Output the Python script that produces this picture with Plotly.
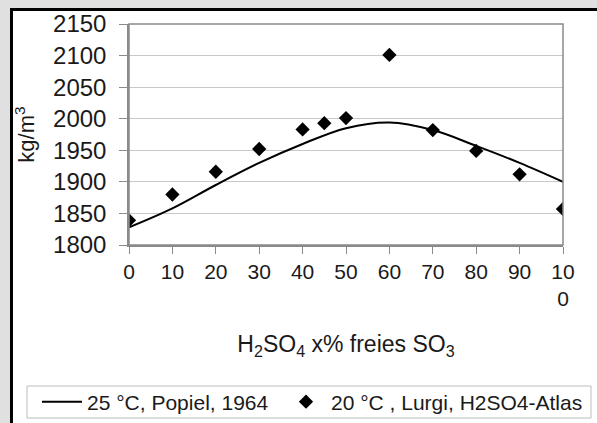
import plotly.graph_objects as go

# Data
curve_x = [0, 10, 20, 30, 40, 50, 60, 70, 80, 90, 100]
curve_y = [1828, 1858, 1895, 1930, 1960, 1985, 1994, 1982, 1957, 1930, 1900]

pts_x = [0, 10, 20, 30, 40, 45, 50, 60, 70, 80, 90, 100]
pts_y = [1839, 1880, 1916, 1952, 1983, 1993, 2001, 2101, 1982, 1949, 1912, 1857]

tick_vals = [0, 10, 20, 30, 40, 50, 60, 70, 80, 90, 100]
tick_text = ["0", "10", "20", "30", "40", "50", "60", "70", "80", "90", "10<br>0"]

name_curve = "25 °C, Popiel, 1964"
name_pts = "20 °C , Lurgi, H2SO4-Atlas"

FONT = "Liberation Sans, Arial, sans-serif"

W, H = 597, 423
L, R, T, B = 129, 34, 24, 178
pw, ph = W - L - R, H - T - B

def px_x(p):
    return (p - L) / pw

def px_y(p):
    return (H - B - p) / ph

fig = go.Figure()
fig.add_trace(go.Scatter(
    x=curve_x, y=curve_y, mode="lines", name=name_curve, legend="legend",
    line=dict(color="black", width=2, shape="spline", smoothing=1.0),
))
fig.add_trace(go.Scatter(
    x=pts_x, y=pts_y, mode="markers", name=name_pts, legend="legend2",
    marker=dict(symbol="diamond", size=11, color="black"),
))

GRAY = "#e0e0e0"
shapes = [
    # gray outer strips
    dict(type="rect", xref="paper", yref="paper",
         x0=px_x(0), x1=px_x(10), y0=px_y(H), y1=px_y(0),
         fillcolor=GRAY, line=dict(width=0), layer="below"),
    dict(type="rect", xref="paper", yref="paper",
         x0=px_x(0), x1=px_x(W), y0=px_y(8), y1=px_y(0),
         fillcolor=GRAY, line=dict(width=0), layer="below"),
    # black frame lines
    dict(type="line", xref="paper", yref="paper",
         x0=px_x(11.5), x1=px_x(11.5), y0=px_y(H), y1=px_y(8),
         line=dict(color="black", width=3)),
    dict(type="line", xref="paper", yref="paper",
         x0=px_x(10), x1=px_x(W), y0=px_y(9.5), y1=px_y(9.5),
         line=dict(color="black", width=3)),
    # plot area border
    dict(type="rect", xref="paper", yref="paper",
         x0=0, x1=1, y0=0, y1=1,
         line=dict(color="#8a8a8a", width=1.5), layer="above"),
    # legend box
    dict(type="rect", xref="paper", yref="paper",
         x0=px_x(27), x1=px_x(591), y0=px_y(418), y1=px_y(386),
         line=dict(color="#bdbdbd", width=1), layer="below"),
]

legend_common = dict(
    orientation="h", xanchor="left", yanchor="middle",
    bgcolor="rgba(0,0,0,0)", borderwidth=0,
    font=dict(size=21, family=FONT, color="#1a1a1a"),
    itemwidth=40,
)

fig.update_layout(
    width=W, height=H,
    margin=dict(l=L, r=R, t=T, b=B, pad=0, autoexpand=False),
    paper_bgcolor="white",
    plot_bgcolor="white",
    font=dict(family=FONT, color="#1a1a1a", size=20),
    shapes=shapes,
    showlegend=True,
    legend=dict(x=px_x(37), y=px_y(402), **legend_common),
    legend2=dict(x=px_x(281), y=px_y(402), **legend_common),
)

fig.update_xaxes(
    range=[0, 100], tickvals=tick_vals, ticktext=tick_text, automargin=False,
    showgrid=False, zeroline=False, showline=True, linecolor="#8a8a8a", linewidth=1.5,
    ticks="outside", ticklen=7, tickcolor="#8a8a8a", tickwidth=1,
    tickfont=dict(size=21, family=FONT, color="#1a1a1a"),
    title=dict(text="H<sub>2</sub>SO<sub>4</sub> x% freies SO<sub>3</sub>",
               font=dict(size=23, family=FONT, color="#1a1a1a"), standoff=27),
)
fig.update_yaxes(
    range=[1800, 2150], dtick=50, automargin=False,
    showgrid=True, gridcolor="#c8c8c8", gridwidth=1.2, zeroline=False,
    showline=True, linecolor="#8a8a8a", linewidth=1.5,
    ticks="outside", ticklen=8, tickcolor="#8a8a8a", tickwidth=1,
    ticklabelstandoff=8,
    tickfont=dict(size=24, family=FONT, color="#1a1a1a"),
    title=dict(text="kg/m<sup>3</sup>", font=dict(size=22, family=FONT, color="#1a1a1a"), standoff=12),
)

fig.write_html("out.html")
